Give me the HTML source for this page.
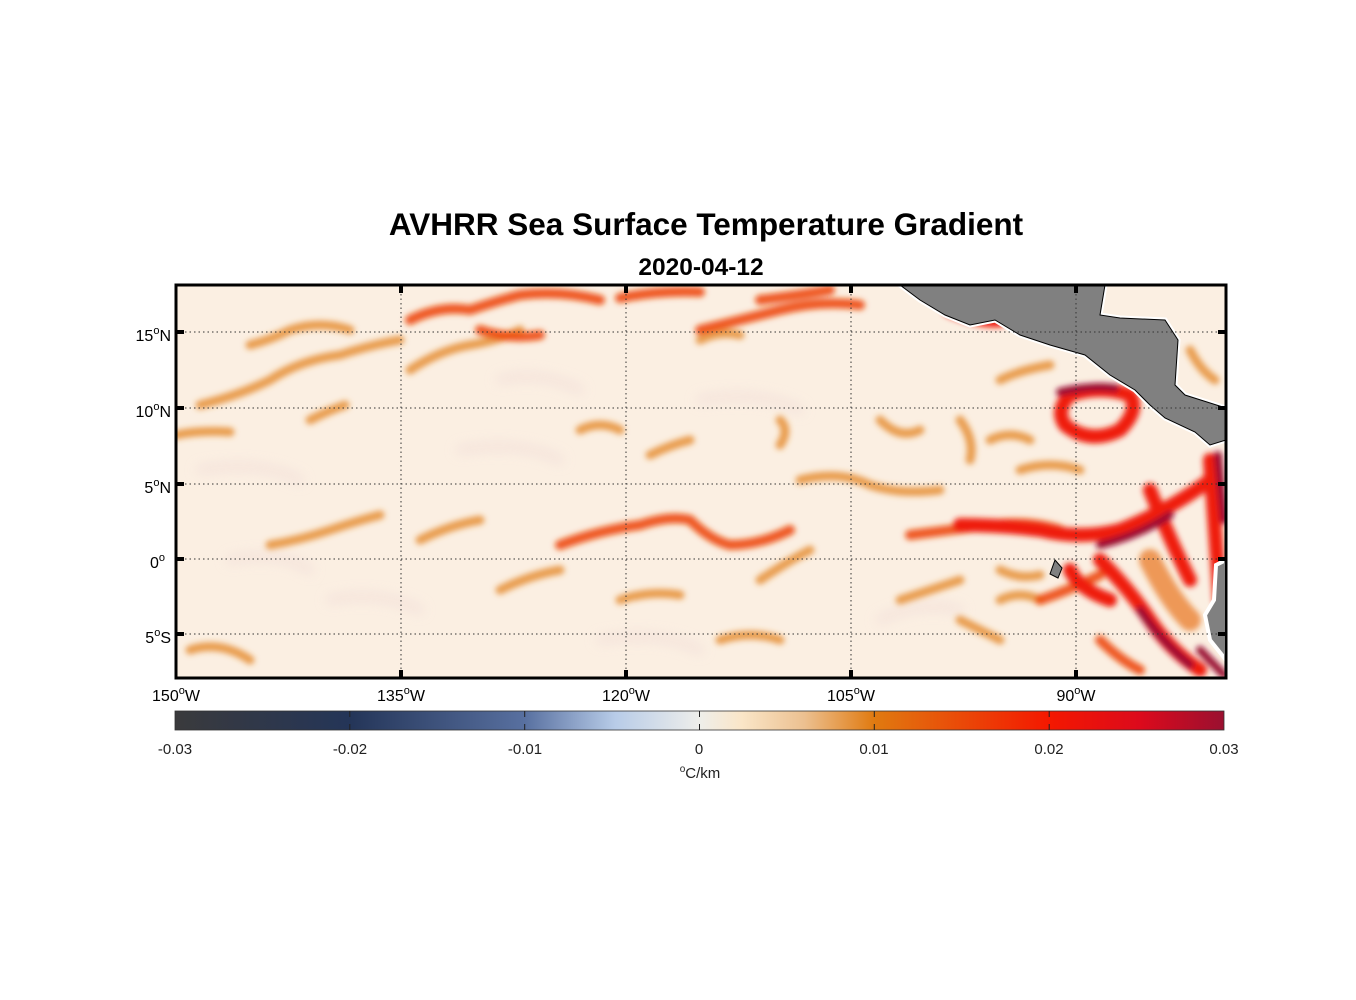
<!DOCTYPE html>
<html><head><meta charset="utf-8"><style>
body{margin:0;background:#fff;}
svg{display:block;font-family:"Liberation Sans",Arial,sans-serif;}
</style></head><body>
<svg width="1356" height="1000" viewBox="0 0 1356 1000" xmlns="http://www.w3.org/2000/svg">
<defs>
<clipPath id="c"><rect x="176" y="285" width="1050" height="393"/></clipPath>
<filter id="b" x="-10%" y="-10%" width="120%" height="120%"><feGaussianBlur stdDeviation="3"/></filter>
<filter id="b2" x="-10%" y="-10%" width="120%" height="120%"><feGaussianBlur stdDeviation="6"/></filter>
<linearGradient id="cb" x1="0" x2="1" y1="0" y2="0">
<stop offset="0" stop-color="#3a3a3c"/>
<stop offset="0.1667" stop-color="#243558"/>
<stop offset="0.3333" stop-color="#5870a0"/>
<stop offset="0.42" stop-color="#b8cce8"/>
<stop offset="0.5" stop-color="#eeeeea"/>
<stop offset="0.54" stop-color="#fae6c8"/>
<stop offset="0.6" stop-color="#ecc090"/>
<stop offset="0.6667" stop-color="#e07a10"/>
<stop offset="0.8333" stop-color="#f41800"/>
<stop offset="0.92" stop-color="#dc0a1c"/>
<stop offset="1" stop-color="#9a1030"/>
</linearGradient>
</defs>
<text x="706" y="235" font-size="31.5" font-weight="bold" text-anchor="middle">AVHRR Sea Surface Temperature Gradient</text>
<text x="701" y="275" font-size="24.5" font-weight="bold" text-anchor="middle">2020-04-12</text>
<g clip-path="url(#c)">
<rect x="176" y="285" width="1050" height="393" fill="#fbefe2"/>
<g filter="url(#b2)" fill="none" stroke-linecap="round" stroke="#f0dcd8" stroke-width="8" opacity="0.7">
<path d="M200 470 Q260 460 300 480 M330 600 Q380 590 420 610 M460 450 Q520 440 560 460 M600 640 Q660 630 700 650 M700 400 Q760 390 800 410 M880 620 Q920 600 960 610 M230 560 Q280 550 310 570 M500 380 Q540 370 580 390"/>
</g>
<g filter="url(#b)" fill="none" stroke-linecap="round" stroke-linejoin="round">
<g stroke="#e58a2c" stroke-width="9" opacity="0.8">
<path d="M200 405 Q240 395 270 380 Q300 360 340 355 Q370 345 400 340"/>
<path d="M250 345 Q270 340 290 330 Q320 320 350 330"/>
<path d="M410 370 Q440 350 470 345 Q500 340 520 330"/>
<path d="M176 435 Q200 430 230 432"/>
<path d="M270 545 Q300 540 330 530 Q360 520 380 515"/>
<path d="M310 420 Q330 410 345 405"/>
<path d="M650 455 Q670 445 690 440"/>
<path d="M780 420 Q790 430 780 445"/>
<path d="M800 480 Q840 470 870 485 Q900 495 940 490"/>
<path d="M420 540 Q450 525 480 520"/>
<path d="M500 590 Q530 575 560 570"/>
<path d="M620 600 Q650 590 680 595"/>
<path d="M760 580 Q790 560 810 550"/>
<path d="M900 600 Q930 590 960 580"/>
<path d="M1000 380 Q1020 370 1050 365"/>
<path d="M960 620 Q980 630 1000 640"/>
<path d="M700 340 Q720 330 740 335"/>
<path d="M190 650 Q220 640 250 660"/>
<path d="M720 640 Q750 630 780 640"/>
<path d="M880 420 Q900 440 920 430"/>
<path d="M580 430 Q600 420 620 430"/>
<path d="M960 420 Q975 440 970 460"/>
<path d="M1020 470 Q1050 460 1080 470"/>
<path d="M1000 600 Q1020 590 1040 600"/>
<path d="M1130 330 Q1150 340 1160 360"/>
<path d="M1190 350 Q1200 370 1215 380"/>
<path d="M990 440 Q1010 430 1030 440"/>
<path d="M1000 570 Q1020 580 1040 575"/>
</g>
<g stroke="#ee4a08" stroke-width="10" opacity="0.9">
<path d="M410 320 Q440 305 470 310 Q500 300 520 295 Q560 290 600 300"/>
<path d="M480 330 Q510 340 540 335"/>
<path d="M560 545 Q600 530 640 525 Q670 515 690 520 Q710 540 730 545 Q760 545 790 530"/>
<path d="M700 330 Q740 320 780 310 Q820 300 860 305"/>
<path d="M760 300 Q800 295 830 290"/>
<path d="M910 535 Q950 530 990 525 Q1030 520 1060 530"/>
<path d="M1040 600 Q1070 590 1100 575"/>
<path d="M620 298 Q660 290 700 292"/>
<path d="M1100 640 Q1120 660 1140 670"/>
</g>
<g stroke="#ef1a08" stroke-width="14">
<path d="M960 525 Q1000 525 1040 530 Q1080 540 1120 530 Q1170 510 1210 480"/>
<path d="M1070 395 Q1100 385 1130 395 Q1140 410 1120 430 Q1090 445 1065 425 Q1055 410 1070 395"/>
<path d="M1100 560 Q1130 590 1150 620 Q1170 650 1200 670"/>
<path d="M1070 570 Q1080 590 1110 600"/>
<path d="M1210 460 L1220 600"/>
<path d="M950 310 Q980 322 1000 320"/>
<path d="M1150 490 Q1170 540 1190 580"/>
</g>
<g stroke="#e8741c" stroke-width="22" opacity="0.7">
<path d="M1150 560 Q1170 600 1190 620"/>
</g>
<g stroke="#9a1030" stroke-width="8">
<path d="M1060 392 Q1090 385 1115 388"/>
<path d="M1100 545 Q1140 535 1170 515"/>
<path d="M1140 610 Q1160 640 1190 665"/>
<path d="M1218 455 L1224 520"/>
<path d="M1200 650 L1224 675"/>
</g>
</g>
<path d="M900 285 L1105 285 L1100 315 L1120 318 L1165 320 L1178 340 L1175 385 L1185 395 L1226 408 L1226 440 L1210 445 L1195 432 L1165 418 L1150 405 L1135 390 L1110 375 L1085 355 L1050 345 L1020 335 L995 320 L970 325 L945 315 L920 300 Z" fill="#808080" stroke="#fff" stroke-width="5"/>
<path d="M900 285 L1105 285 L1100 315 L1120 318 L1165 320 L1178 340 L1175 385 L1185 395 L1226 408 L1226 440 L1210 445 L1195 432 L1165 418 L1150 405 L1135 390 L1110 375 L1085 355 L1050 345 L1020 335 L995 320 L970 325 L945 315 L920 300 Z" fill="#808080" stroke="#000" stroke-width="1"/>
<path d="M1226 560 L1216 565 L1214 600 L1205 615 L1210 640 L1226 660 Z" fill="#808080" stroke="#fff" stroke-width="4"/>
<path d="M1055 560 L1062 568 L1058 578 L1050 574 Z" fill="#808080" stroke="#000" stroke-width="1"/>
</g>
<g stroke="#333" stroke-width="1" stroke-dasharray="1.5,3">
<line x1="401" y1="285" x2="401" y2="678"/><line x1="626" y1="285" x2="626" y2="678"/>
<line x1="851" y1="285" x2="851" y2="678"/><line x1="1076" y1="285" x2="1076" y2="678"/>
<line x1="176" y1="332" x2="1226" y2="332"/><line x1="176" y1="408" x2="1226" y2="408"/>
<line x1="176" y1="484" x2="1226" y2="484"/><line x1="176" y1="559" x2="1226" y2="559"/>
<line x1="176" y1="634" x2="1226" y2="634"/>
</g>
<g stroke="#000" stroke-width="4">
<path d="M401 285v8M626 285v8M851 285v8M1076 285v8M401 678v-8M626 678v-8M851 678v-8M1076 678v-8"/>
<path d="M176 332h8M176 408h8M176 484h8M176 559h8M176 634h8M1226 332h-8M1226 408h-8M1226 484h-8M1226 559h-8M1226 634h-8"/>
</g>
<rect x="176" y="285" width="1050" height="393" fill="none" stroke="#000" stroke-width="3"/>
<g font-size="16" text-anchor="end">
<text x="171" y="341">15<tspan dy="-7" font-size="11">o</tspan><tspan dy="7">N</tspan></text>
<text x="171" y="417">10<tspan dy="-7" font-size="11">o</tspan><tspan dy="7">N</tspan></text>
<text x="171" y="493">5<tspan dy="-7" font-size="11">o</tspan><tspan dy="7">N</tspan></text>
<text x="165" y="568">0<tspan dy="-7" font-size="11">o</tspan></text>
<text x="171" y="643">5<tspan dy="-7" font-size="11">o</tspan><tspan dy="7">S</tspan></text>
</g>
<g font-size="16" text-anchor="middle">
<text x="176" y="701">150<tspan dy="-7" font-size="11">o</tspan><tspan dy="7">W</tspan></text>
<text x="401" y="701">135<tspan dy="-7" font-size="11">o</tspan><tspan dy="7">W</tspan></text>
<text x="626" y="701">120<tspan dy="-7" font-size="11">o</tspan><tspan dy="7">W</tspan></text>
<text x="851" y="701">105<tspan dy="-7" font-size="11">o</tspan><tspan dy="7">W</tspan></text>
<text x="1076" y="701">90<tspan dy="-7" font-size="11">o</tspan><tspan dy="7">W</tspan></text>
</g>
<rect x="175" y="711" width="1049" height="19" fill="url(#cb)" stroke="#333" stroke-width="0.8"/>
<g stroke="#222" stroke-width="1">
<path d="M349.8 730v-6M524.7 730v-6M699.5 730v-6M874.3 730v-6M1049.2 730v-6M349.8 711v6M524.7 711v6M699.5 711v6M874.3 711v6M1049.2 711v6"/>
</g>
<g font-size="15" text-anchor="middle" fill="#222">
<text x="175" y="754">-0.03</text><text x="350" y="754">-0.02</text><text x="525" y="754">-0.01</text>
<text x="699" y="754">0</text><text x="874" y="754">0.01</text><text x="1049" y="754">0.02</text><text x="1224" y="754">0.03</text>
<text x="700" y="778"><tspan font-size="10" dy="-6">o</tspan><tspan dy="6">C/km</tspan></text>
</g>
</svg>
</body></html>
